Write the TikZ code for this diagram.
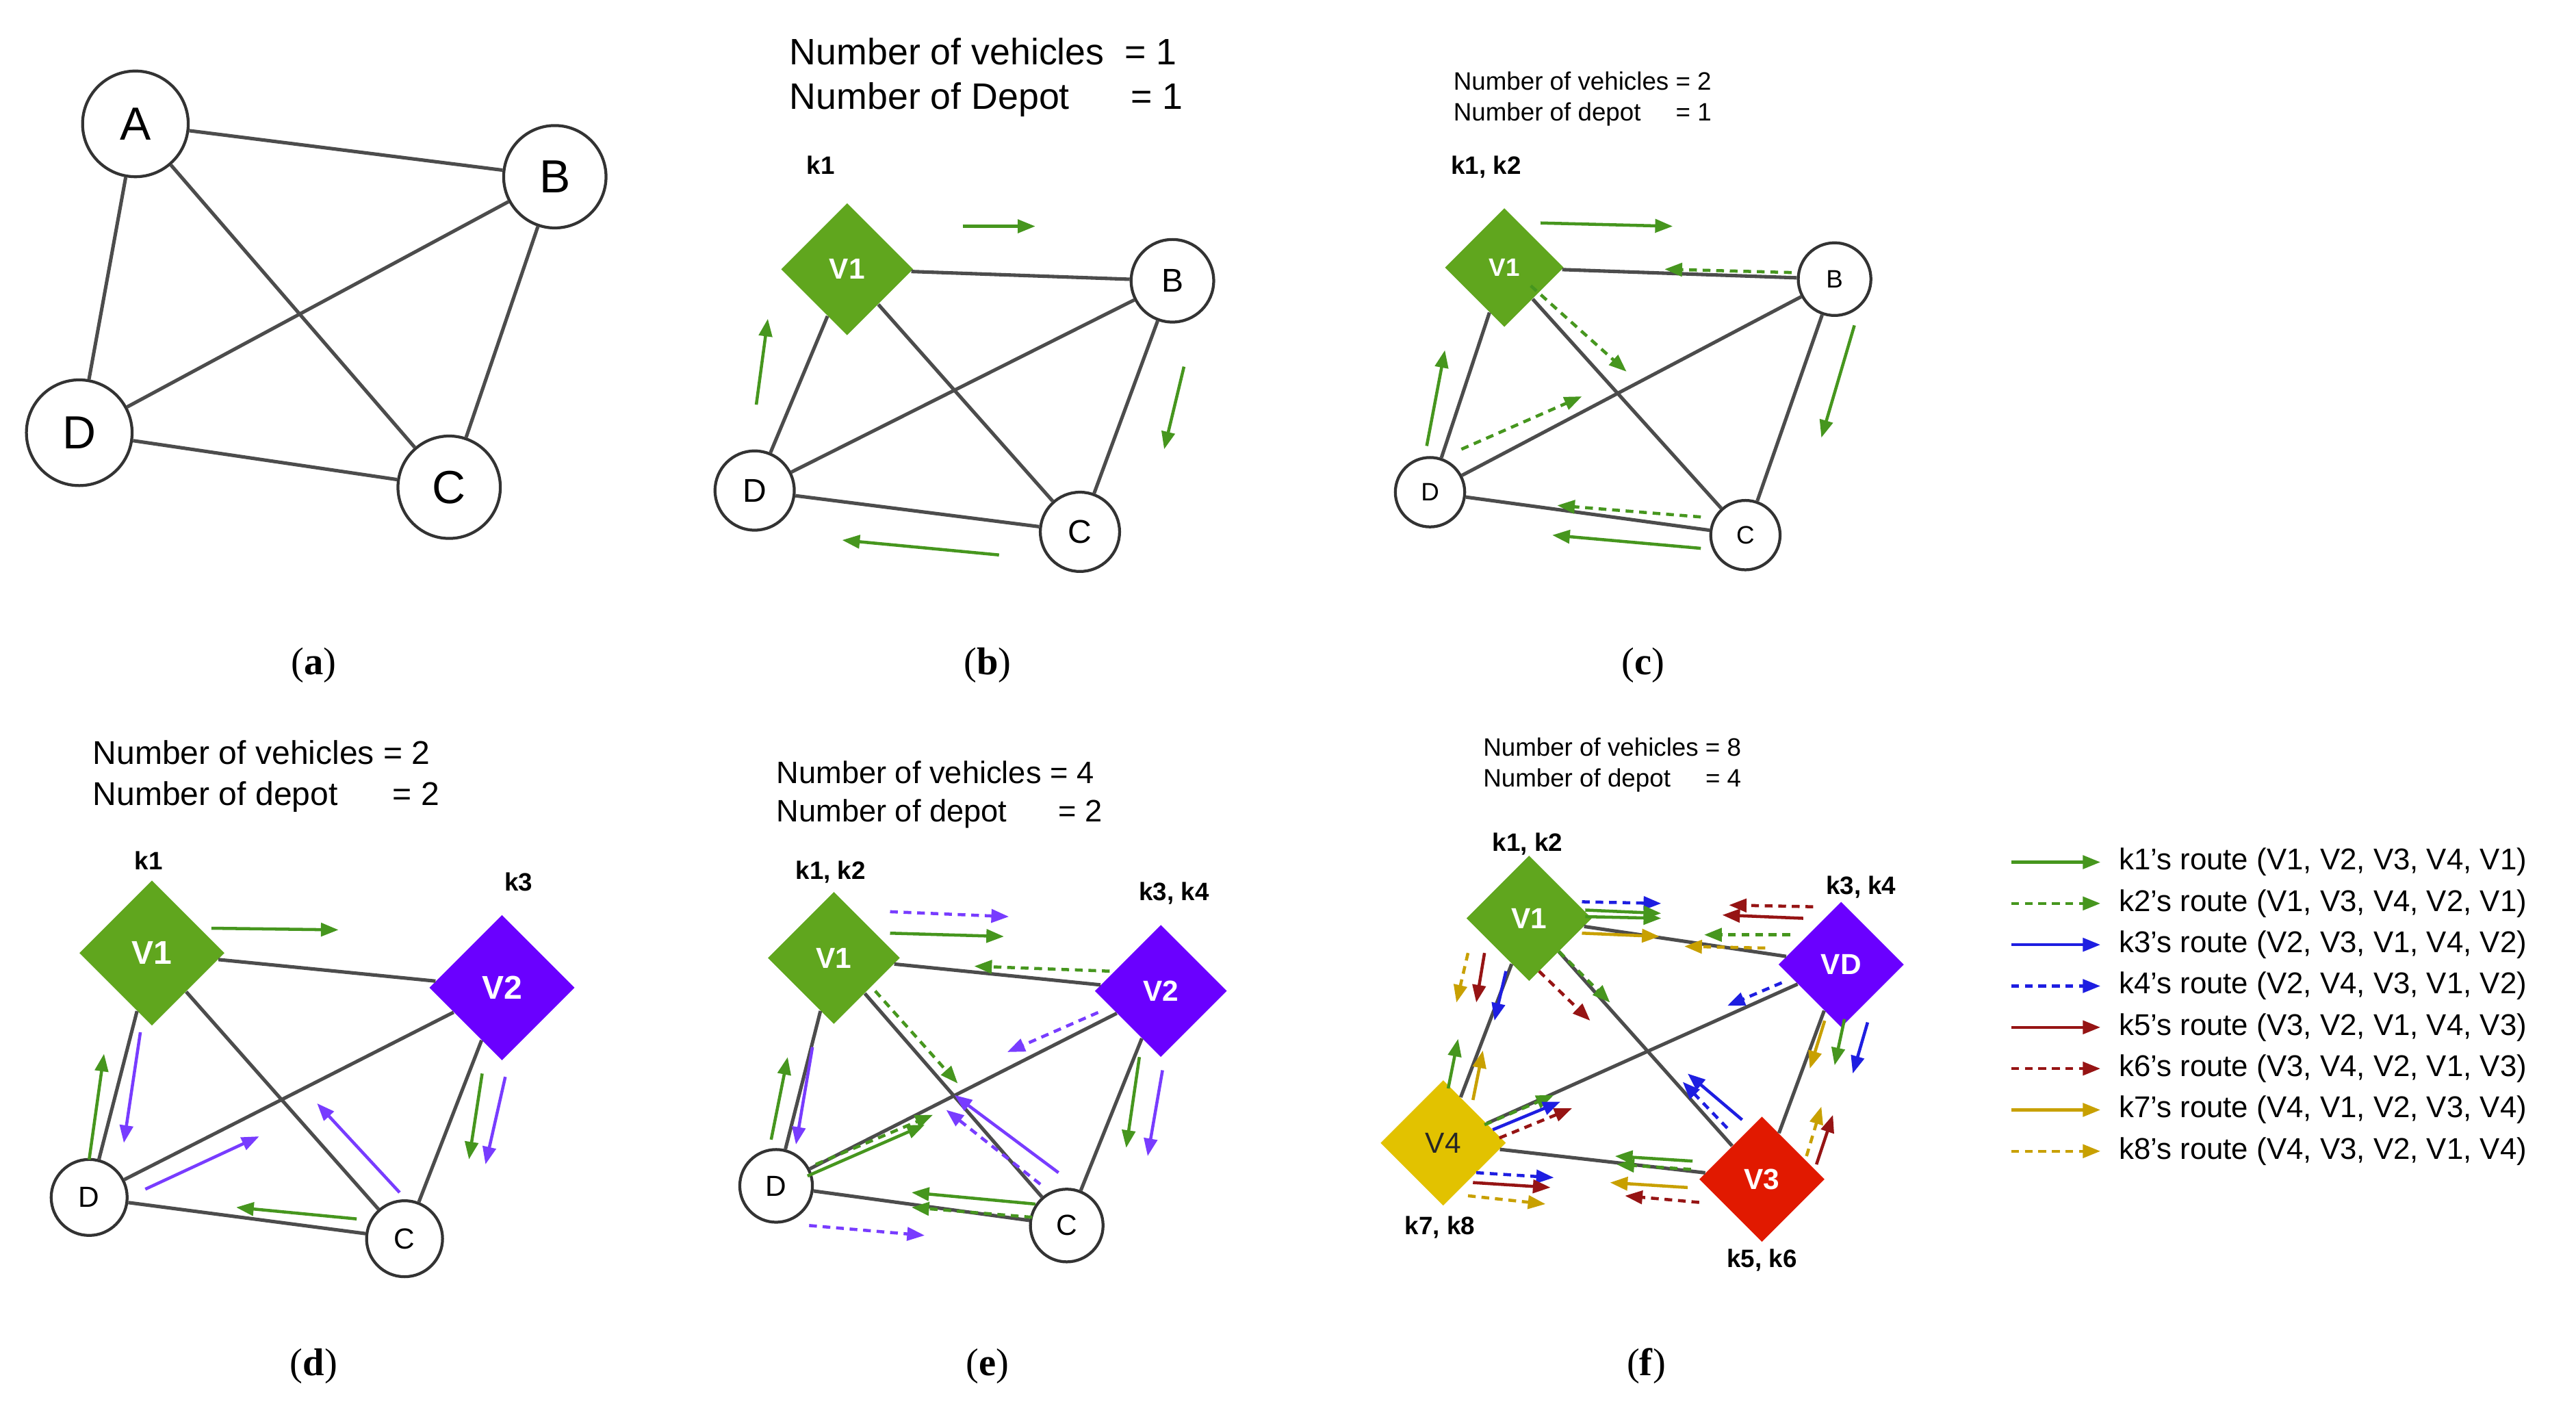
\documentclass[tikz,border=0pt]{standalone}
\usepackage{fontspec}
\setmainfont{Liberation Sans}
\newfontfamily\capfont{Liberation Serif}
\usetikzlibrary{shapes.geometric}
\usetikzlibrary{arrows.meta}
\definecolor{rgreen}{RGB}{70,150,30}
\definecolor{rblue}{RGB}{30,30,225}
\definecolor{rred}{RGB}{150,20,20}
\definecolor{rgold}{RGB}{200,160,0}
\definecolor{vgreen}{RGB}{96,166,30}
\definecolor{vpurple}{RGB}{106,0,255}
\definecolor{vred}{RGB}{225,25,0}
\definecolor{vyellow}{RGB}{226,194,0}
\definecolor{vpurplea}{RGB}{120,60,255}
\tikzset{
city/.style={circle,draw=black!80,line width=1.5pt,fill=white,inner sep=0pt,minimum size=#1},
depot/.style={diamond,aspect=1,fill=#1,text=white,inner sep=0pt,font=\fontsize{15}{15}\selectfont\bfseries},
edge/.style={draw=black!70,line width=1.8pt},
route/.style={#1,line width=1.6pt,-{Triangle[length=0.32cm,width=0.24cm]}},
droute/.style={#1,line width=1.6pt,dash pattern=on 4pt off 3pt,-{Triangle[length=0.32cm,width=0.24cm]}},
info/.style={anchor=west,align=left,inner sep=0pt},
klabel/.style={font=\fontsize{13}{13}\selectfont\bfseries},
caption/.style={font=\capfont\fontsize{20}{20}\selectfont}
}
\begin{document}
\begin{tikzpicture}[x=0.03cm,y=-0.03cm]
\fill[white] (0,0) rectangle (1560,859);
\useasboundingbox (0,0) rectangle (1560,859);

% (a)
\begin{scope}[every node/.append style={font=\fontsize{24}{24}\selectfont}]
\node[city=1.92cm] (aA) at (82,75) {A};
\node[city=1.86cm] (aB) at (336,107) {B};
\node[city=1.92cm] (aD) at (48,262) {D};
\node[city=1.86cm] (aC) at (272,295) {C};
\end{scope}
\draw[edge] (aA) -- (aB) (aA) -- (aD) (aA) -- (aC) (aB) -- (aD) (aB) -- (aC) (aD) -- (aC);

% (b)
\node[info,font=\fontsize{19}{23}\selectfont] (btxt) at (478,47) {Number of vehicles\ \ = 1\\Number of Depot\ \ \ \ \ \ = 1};
\node[depot=vgreen,minimum size=2.4cm] (bV1) at (513,163) {V1};
\begin{scope}[every node/.append style={font=\fontsize{17}{17}\selectfont}]
\node[city=1.5cm] (bB) at (710,170) {B};
\node[city=1.44cm] (bD) at (457,297) {D};
\node[city=1.44cm] (bC) at (654,322) {C};
\end{scope}
\node[klabel] (bk) at (497,100) {k1};
\draw[edge] (bV1) -- (bB) (bV1) -- (bD) (bV1) -- (bC) (bB) -- (bD) (bB) -- (bC) (bD) -- (bC);
\draw[route=rgreen] (583,137) -- (627,137);
\draw[route=rgreen] (458,245) -- (465,193);
\draw[route=rgreen] (717,222) -- (705,272);
\draw[route=rgreen] (605,336) -- (510,327);

% (c)
\node[info,font=\fontsize{13}{16}\selectfont] (ctxt) at (880,60) {Number of vehicles = 2\\Number of depot\ \ \ \ \ = 1};
\node[depot=vgreen,minimum size=2.16cm,font=\fontsize{13}{13}\selectfont\bfseries] (cV1) at (911,162) {V1};
\begin{scope}[every node/.append style={font=\fontsize{13}{13}\selectfont}]
\node[city=1.32cm] (cB) at (1111,169) {B};
\node[city=1.26cm] (cD) at (866,298) {D};
\node[city=1.26cm] (cC) at (1057,324) {C};
\end{scope}
\node[klabel] (ck) at (900,101) {k1, k2};
\draw[edge] (cV1) -- (cB) (cV1) -- (cD) (cV1) -- (cC) (cB) -- (cD) (cB) -- (cC) (cD) -- (cC);
\draw[route=rgreen] (933,135) -- (1013,137);
\draw[droute=rgreen] (1085,165) -- (1008,163);
\draw[droute=rgreen] (927,173) -- (985,225);
\draw[route=rgreen] (864,270) -- (875,212);
\draw[droute=rgreen] (885,272) -- (958,240);
\draw[route=rgreen] (1123,197) -- (1103,265);
\draw[droute=rgreen] (1030,313) -- (943,306);
\draw[route=rgreen] (1030,332) -- (940,324);

% (d)
\node[info,font=\fontsize{17}{21}\selectfont] (dtxt) at (56,470) {Number of vehicles = 2\\Number of depot\ \ \ \ \ \ = 2};
\node[depot=vgreen,minimum size=2.64cm,font=\fontsize{17}{17}\selectfont\bfseries] (dV1) at (92,577) {V1};
\node[depot=vpurple,minimum size=2.64cm,font=\fontsize{17}{17}\selectfont\bfseries] (dV2) at (304,598) {V2};
\begin{scope}[every node/.append style={font=\fontsize{15}{15}\selectfont}]
\node[city=1.38cm] (dD) at (54,725) {D};
\node[city=1.38cm] (dC) at (245,750) {C};
\end{scope}
\node[klabel] (dk1) at (90,521) {k1};
\node[klabel] (dk3) at (314,534) {k3};
\draw[edge] (dV1) -- (dV2) (dV1) -- (dD) (dV1) -- (dC) (dV2) -- (dD) (dV2) -- (dC) (dD) -- (dC);
\draw[route=rgreen] (128,562) -- (205,563);
\draw[route=rgreen] (54,702) -- (63,638);
\draw[route=vpurplea] (85,625) -- (75,692);
\draw[route=rgreen] (292,650) -- (284,702);
\draw[route=vpurplea] (306,652) -- (294,705);
\draw[route=vpurplea] (88,720) -- (157,688);
\draw[route=vpurplea] (242,722) -- (192,668);
\draw[route=rgreen] (216,738) -- (143,731);

% (e)
\node[info,font=\fontsize{16}{20}\selectfont] (etxt) at (470,481) {Number of vehicles = 4\\Number of depot\ \ \ \ \ \ = 2};
\node[depot=vgreen,minimum size=2.4cm] (eV1) at (505,580) {V1};
\node[depot=vpurple,minimum size=2.4cm] (eV2) at (703,600) {V2};
\begin{scope}[every node/.append style={font=\fontsize{15}{15}\selectfont}]
\node[city=1.32cm] (eD) at (470,718) {D};
\node[city=1.32cm] (eC) at (646,742) {C};
\end{scope}
\node[klabel] (ek12) at (503,528) {k1, k2};
\node[klabel] (ek34) at (711,541) {k3, k4};
\draw[edge] (eV1) -- (eV2) (eV1) -- (eD) (eV1) -- (eC) (eV2) -- (eD) (eV2) -- (eC) (eD) -- (eC);
\draw[droute=vpurplea] (539,552) -- (611,555);
\draw[route=rgreen] (539,565) -- (608,567);
\draw[droute=rgreen] (672,588) -- (590,585);
\draw[droute=rgreen] (530,600) -- (580,656);
\draw[droute=vpurplea] (665,613) -- (610,637);
\draw[route=rgreen] (467,690) -- (477,640);
\draw[route=vpurplea] (492,634) -- (482,693);
\draw[route=rgreen] (690,640) -- (682,695);
\draw[route=vpurplea] (704,648) -- (695,700);
\draw[droute=rgreen] (494,705) -- (565,675);
\draw[route=rgreen] (489,712) -- (560,681);
\draw[route=vpurplea] (641,710) -- (578,663);
\draw[droute=vpurplea] (630,717) -- (573,672);
\draw[route=rgreen] (627,729) -- (552,722);
\draw[droute=rgreen] (625,737) -- (552,731);
\draw[droute=vpurplea] (490,742) -- (560,748);

% (f)
\node[info,font=\fontsize{13}{16}\selectfont] (ftxt) at (898,463) {Number of vehicles = 8\\Number of depot\ \ \ \ \ = 4};
\node[depot=vgreen,minimum size=2.28cm] (fV1) at (926,556) {V1};
\node[depot=vpurple,minimum size=2.28cm] (fVD) at (1115,584) {VD};
\node[depot=vyellow,minimum size=2.28cm,text=black!85,font=\fontsize{15}{15}\selectfont] (fV4) at (874,692) {V4};
\node[depot=vred,minimum size=2.28cm] (fV3) at (1067,714) {V3};
\node[klabel] (fk12) at (925,511) {k1, k2};
\node[klabel] (fk34) at (1127,537) {k3, k4};
\node[klabel] (fk78) at (872,743) {k7, k8};
\node[klabel] (fk56) at (1067,763) {k5, k6};
\draw[edge] (fV1) -- (fVD) (fV1) -- (fV4) (fV1) -- (fV3) (fVD) -- (fV4) (fVD) -- (fV3) (fV4) -- (fV3);
\draw[droute=rblue] (958,546) -- (1006,547);
\draw[route=rgreen] (960,551) -- (1006,553);
\draw[route=rgreen] (960,555) -- (1006,556);
\draw[route=rgold] (958,565) -- (1005,567);
\draw[droute=rred] (1098,549) -- (1047,548);
\draw[route=rred] (1092,556) -- (1043,554);
\draw[droute=rgreen] (1084,566) -- (1032,566);
\draw[droute=rgold] (1069,574) -- (1020,573);
\draw[droute=rgold] (889,577) -- (882,607);
\draw[route=rred] (899,577) -- (894,607);
\draw[route=rblue] (912,588) -- (905,618);
\draw[route=rgreen] (877,659) -- (883,629);
\draw[route=rgold] (892,666) -- (898,636);
\draw[droute=rgreen] (944,576) -- (975,607);
\draw[droute=rred] (932,588) -- (963,618);
\draw[route=rblue] (1055,678) -- (1022,650);
\draw[droute=rblue] (1046,683) -- (1019,655);
\draw[droute=rblue] (1079,595) -- (1046,609);
\draw[droute=rgreen] (899,681) -- (941,663);
\draw[route=rblue] (904,684) -- (945,667);
\draw[droute=rred] (908,689) -- (952,671);
\draw[route=rgold] (1105,618) -- (1096,647);
\draw[route=rgreen] (1117,617) -- (1111,645);
\draw[route=rblue] (1131,619) -- (1122,650);
\draw[droute=rgold] (1094,700) -- (1103,670);
\draw[route=rred] (1100,705) -- (1110,675);
\draw[route=rgreen] (1025,703) -- (978,700);
\draw[droute=rgreen] (1024,708) -- (979,705);
\draw[route=rgold] (1022,719) -- (975,716);
\draw[droute=rred] (1029,728) -- (984,724);
\draw[droute=rblue] (894,710) -- (941,713);
\draw[route=rred] (892,716) -- (939,719);
\draw[droute=rgold] (889,724) -- (936,729);

% legend
\foreach \i/\s/\c/\r in {0/route/rgreen/{k1's route (V1, V2, V3, V4, V1)},
  1/droute/rgreen/{k2's route (V1, V3, V4, V2, V1)},
  2/route/rblue/{k3's route (V2, V3, V1, V4, V2)},
  3/droute/rblue/{k4's route (V2, V4, V3, V1, V2)},
  4/route/rred/{k5's route (V3, V2, V1, V4, V3)},
  5/droute/rred/{k6's route (V3, V4, V2, V1, V3)},
  6/route/rgold/{k7's route (V4, V1, V2, V3, V4)},
  7/droute/rgold/{k8's route (V4, V3, V2, V1, V4)}}{
  \coordinate (lg\i) at (1218,522+25*\i);
  \draw[\s=\c] (lg\i) -- ++(54,0);
  \node[info,font=\fontsize{15.5}{15.5}\selectfont] (lt\i) at (1283,522+25*\i) {\r};
}

% captions
\node[caption] (capa) at (190,403) {(\textbf{a})};
\node[caption] (capb) at (598,403) {(\textbf{b})};
\node[caption] (capc) at (995,403) {(\textbf{c})};
\node[caption] (capd) at (190,827) {(\textbf{d})};
\node[caption] (cape) at (598,827) {(\textbf{e})};
\node[caption] (capf) at (997,827) {(\textbf{f})};
\end{tikzpicture}
\end{document}
